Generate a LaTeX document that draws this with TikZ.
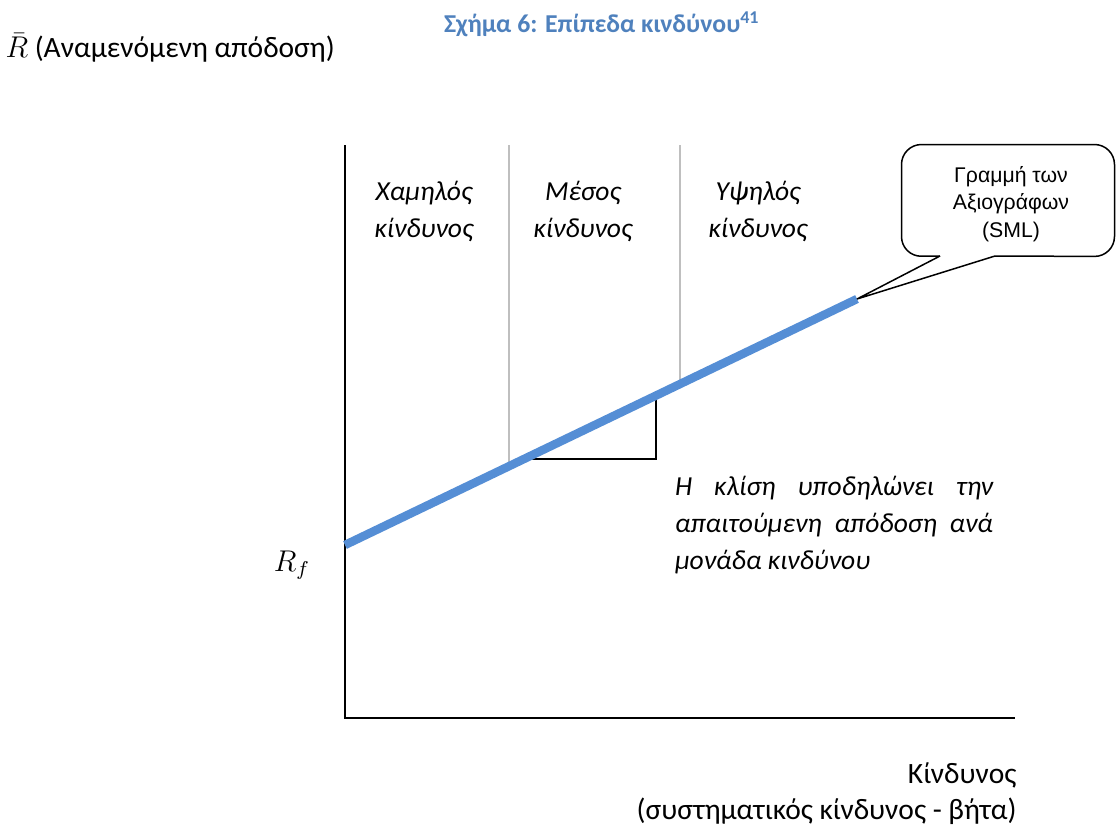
\documentclass[tikz,border=0pt]{standalone}
\usepackage{fontspec}
\setmainfont{Carlito}
\newfontfamily\calloutfont{Liberation Sans}
\definecolor{capblue}{HTML}{4F81BD}
\definecolor{smlblue}{HTML}{558ED5}
\definecolor{zonegray}{HTML}{BFBFBF}

\begin{document}
\begin{tikzpicture}[x=0.4pt,y=-0.4pt,
    zone/.style={font=\itshape\fontsize{11}{14.8}\selectfont, align=center, inner sep=0pt},
    axislabel/.style={font=\fontsize{11.8}{14.4}\selectfont, inner sep=0pt},
    smlline/.style={smlblue, line width=3.4pt},
    zoneline/.style={zonegray, line width=0.6pt}]
\useasboundingbox (0,0) rectangle (1116,827);

% title and axis labels
\node[font=\bfseries\fontsize{10.3}{12}\selectfont, text=capblue] (title) at (602,24) {Σχήμα 6: Επίπεδα κινδύνου\textsuperscript{41}};
\node[axislabel, anchor=west] (ylabel) at (5,48) {$\bar{R}$\ (Αναμενόμενη απόδοση)};
\node[axislabel, anchor=east, align=right] (xlabel) at (1017,794) {Κίνδυνος\\(συστηματικός κίνδυνος - βήτα)};
\node[axislabel] (rf) at (292,565) {$R_f$};

% axes
\coordinate (O) at (345,718);
\coordinate (ytop) at (345,145);
\coordinate (xend) at (1015,718);
\coordinate (rfpt) at (345,545);
\coordinate (smlend) at (857,299);
\path (rfpt) -- (smlend)
    coordinate[pos=.320] (z1) coordinate[pos=.654] (z2)
    coordinate[pos=.35] (tA) coordinate[pos=.607] (tB);

% risk zones
\draw[zoneline] (z1 |- ytop) -- (z1);
\draw[zoneline] (z2 |- ytop) -- (z2);
\node[zone] (low) at (424,211) {Χαμηλός\\κίνδυνος};
\node[zone] (mid) at (583,211) {Μέσος\\κίνδυνος};
\node[zone] (high) at (758,211) {Υψηλός\\κίνδυνος};

% slope triangle
\draw[line width=0.8pt] (tA) -- (tA -| tB) -- (tB);

\draw[line width=0.8pt] (ytop) -- (O) -- (xend);
\draw[smlline] (rfpt) -- (smlend);

% slope note
\node[font=\itshape\fontsize{11}{14.8}\selectfont, text width=127.2pt, align=justify, inner sep=0pt] (note) at (834,525)
    {Η κλίση υποδηλώνει την\linebreak απαιτούμενη απόδοση ανά\linebreak μονάδα κινδύνου};

% callout
\node[minimum width=84.8pt, minimum height=44.4pt, inner sep=0pt] (smlbox) at (1008,200.5) {};
\node[align=center, inner sep=0pt, font=\calloutfont\fontsize{8.5}{11}\selectfont] (smltext) at (1011,204)
    {Γραμμή των\\Αξιογράφων\\(SML)};
\coordinate (ptA) at (940,256);
\coordinate (ptB) at (995,256);
\draw[line width=0.6pt, rounded corners=8pt] (ptA) -- (smlbox.south west) -- (smlbox.north west)
    -- (smlbox.north east) -- (smlbox.south east) -- (ptB);
\draw[line width=0.6pt, line join=miter] (ptB) -- (smlend) -- (ptA);
\end{tikzpicture}
\end{document}
